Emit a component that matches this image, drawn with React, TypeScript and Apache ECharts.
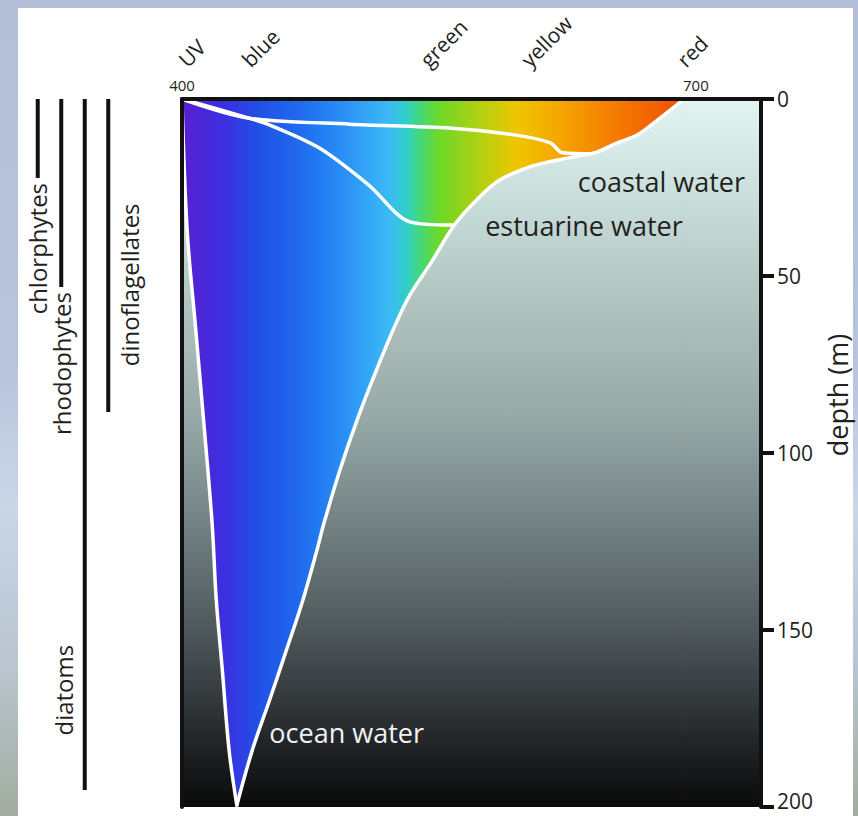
import React, { useEffect, useRef } from "react";
import * as echarts from "echarts";

// ---------------- data ----------------
const wavelengthMin = 400;
const wavelengthMax = 738;
const depthMin = 0;
const depthMax = 200;
const depthInterval = 50;
const wavelengthTickLabels = [400, 700];
const colorBandNames = ["UV", "blue", "green", "yellow", "red"];
const colorBandWavelengths = [400, 437, 541, 600, 691];

// visible spectrum colour by wavelength (nm)
const spectrumWavelengths = [400, 425, 445, 470, 495, 512, 522, 531, 540, 550, 575, 595, 620, 650, 690];
const spectrumColors = [
  "#5a1fd2", "#3a30e0", "#2150e6", "#1f6cee", "#2a90f5", "#36acf7", "#3bbcf2", "#30cfc8",
  "#48d870", "#6cd828", "#b6d010", "#eec600", "#f5a600", "#f47e00", "#f05200",
];

// water colour by depth (m)
const waterDepths = [0, 20, 50, 90, 100, 130, 150, 170, 186, 200];
const waterColors = ["#e2f4f2", "#d0e5e2", "#b6cac6", "#97a9a7", "#8b9c9c", "#677476", "#4e585b", "#33383b", "#1c1e20", "#0a0a0a"];

// ocean water light envelope [wavelength nm, depth m]
const oceanLeftEdge: [number, number][] = [
  [400, 0], [403, 37], [408, 65], [413, 93], [417.6, 120], [420, 141.5], [423.4, 160.5], [427.5, 184], [432, 199.5],
];
const oceanRightEdge: [number, number][] = [
  [432, 199.5], [441, 184], [451, 170], [461, 155.6], [470.6, 141.5], [478.8, 127.4], [482.9, 119.8],
  [492.2, 104.8], [502.2, 90.7], [513.5, 76.6], [525, 63.3], [533, 55.4], [545.7, 46], [559, 35.6],
  [572, 28.5], [585.5, 22.9], [604.8, 18.9], [624.7, 16.7], [642, 15], [654, 12.4], [665.6, 10.2],
  [679, 5.4], [693, 0],
];
const coastalLine: [number, number][] = [
  [400, 0], [439, 5.4], [498, 7.1], [556, 8.2], [595, 10.2], [615, 12.4], [622, 15.2], [640, 15.5],
];
const estuarineLine: [number, number][] = [
  [400, 0], [439, 5.4], [451, 7.3], [480, 13.8], [509, 24.3], [533, 34.7], [558, 35.6],
];

const waterLabels = ["coastal water", "estuarine water", "ocean water"];
const waterLabelAnchors: [number, number][] = [[631, 23.4], [577, 35.6], [451, 179]];

const algaeGroups = ["chlorphytes", "rhodophytes", "diatoms", "dinoflagellates"];
const algaeMaxDepth = [22.3, 53.1, 195.2, 88.4];

// ---------------- presentation ----------------
const FONT = '"Open Sans", "Noto Sans", sans-serif';
const INK = "#231f20";
const GRID_TOP = 99;
const GRID_HEIGHT = 708;
const algaeLabelSide = ["below", "below", "left", "right"];
const algaeLabelCenterDepth = [0, 0, 167, 52.5];

function buildOption() {
  const spectrumStops = spectrumWavelengths.map((w, i) => ({
    offset: (w - wavelengthMin) / (wavelengthMax - wavelengthMin),
    color: spectrumColors[i],
  }));
  const waterStops = waterDepths.map((d, i) => ({
    offset: (d - depthMin) / (depthMax - depthMin),
    color: waterColors[i],
  }));
  const waterFill = () =>
    new echarts.graphic.LinearGradient(0, GRID_TOP, 0, GRID_TOP + GRID_HEIGHT, waterStops, true);

  const SMOOTH = 0.35;

  const whiteLine = (data: [number, number][], smooth: number) => ({
    type: "line",
    xAxisIndex: 0,
    yAxisIndex: 0,
    data,
    symbol: "none",
    silent: true,
    smooth,
    z: 4,
    lineStyle: { color: "#ffffff", width: 3.5, cap: "round", join: "round" },
  });

  // gray water region below a boundary curve (fills down to the deepest depth)
  const waterArea = (data: [number, number][]) => ({
    type: "line",
    xAxisIndex: 0,
    yAxisIndex: 0,
    data,
    symbol: "none",
    silent: true,
    smooth: SMOOTH,
    z: 3,
    lineStyle: { width: 0, opacity: 0 },
    areaStyle: { origin: "end", color: waterFill(), opacity: 1 },
  });

  const envelopeTop = oceanRightEdge[oceanRightEdge.length - 1][0];

  return {
    animation: false,
    backgroundColor: "transparent",
    grid: [
      { left: 182, top: GRID_TOP, width: 579, height: GRID_HEIGHT, containLabel: false, outerBoundsMode: "none" },
      { left: 26, top: GRID_TOP, width: 94, height: GRID_HEIGHT, containLabel: false, outerBoundsMode: "none" },
    ],
    xAxis: [
      {
        type: "value",
        gridIndex: 0,
        position: "top",
        min: wavelengthMin,
        max: wavelengthMax,
        interval: 100,
        z: 10,
        axisLine: { show: true, onZero: false, lineStyle: { color: "#111", width: 4 } },
        axisTick: { show: false },
        splitLine: { show: false },
        axisLabel: {
          margin: 7,
          fontSize: 15,
          fontFamily: FONT,
          color: INK,
          formatter: (v: number) => (wavelengthTickLabels.indexOf(v) >= 0 ? String(v) : ""),
        },
      },
      {
        type: "value",
        gridIndex: 0,
        position: "top",
        min: wavelengthMin,
        max: wavelengthMax,
        z: 10,
        axisLine: { show: false },
        axisTick: { show: false },
        splitLine: { show: false },
        axisLabel: {
          customValues: colorBandWavelengths,
          rotate: 45,
          margin: 36,
          fontSize: 21,
          fontFamily: FONT,
          color: INK,
          formatter: (v: number) => {
            const i = colorBandWavelengths.indexOf(v);
            return i >= 0 ? colorBandNames[i] : "";
          },
        },
      },
      {
        type: "category",
        gridIndex: 1,
        data: algaeGroups,
        show: false,
      },
    ],
    yAxis: [
      {
        type: "value",
        gridIndex: 0,
        position: "right",
        inverse: true,
        min: depthMin,
        max: depthMax,
        interval: depthInterval,
        z: 10,
        axisLine: { show: true, onZero: false, lineStyle: { color: "#111", width: 4 } },
        axisTick: { show: true, inside: false, length: 13, lineStyle: { color: "#111", width: 4 } },
        axisLabel: {
          margin: 16,
          fontSize: 21,
          lineHeight: 16,
          fontFamily: FONT,
          color: INK,
          formatter: (v: number) => (v === depthMax ? `{last|${v}}` : String(v)),
          rich: {
            last: {
              fontSize: 21,
              lineHeight: 16,
              fontFamily: FONT,
              color: INK,
              padding: [0, 0, 12, 0],
            },
          },
        },
        splitLine: { show: false },
      },
      {
        type: "value",
        gridIndex: 0,
        position: "left",
        inverse: true,
        min: depthMin,
        max: depthMax,
        z: 10,
        axisLine: { show: true, onZero: false, lineStyle: { color: "#111", width: 4 } },
        axisTick: { show: false },
        axisLabel: { show: false },
        splitLine: { show: false },
      },
      {
        type: "value",
        gridIndex: 1,
        inverse: true,
        min: depthMin,
        max: depthMax,
        show: false,
      },
    ],
    graphic: {
      elements: [
        {
          type: "rect",
          z: -10,
          silent: true,
          shape: { x: 18, y: 8, width: 835, height: 808 },
          style: { fill: "#ffffff" },
        },
        {
          type: "text",
          z: 10,
          x: 837,
          y: 395,
          rotation: Math.PI / 2,
          style: {
            text: "depth (m)",
            fontSize: 27,
            fontFamily: FONT,
            fill: INK,
            align: "center",
            verticalAlign: "middle",
            textAlign: "center",
            textVerticalAlign: "middle",
          },
        },
      ],
    },
    series: [
      {
        type: "custom",
        name: "spectrum",
        xAxisIndex: 0,
        yAxisIndex: 0,
        silent: true,
        z: 1,
        data: [[wavelengthMin, depthMin, wavelengthMax, depthMax]],
        renderItem: (params: any, api: any) => {
          const p0 = api.coord([api.value(0), api.value(1)]);
          const p1 = api.coord([api.value(2), api.value(3)]);
          return {
            type: "rect",
            shape: { x: p0[0], y: p0[1], width: p1[0] - p0[0], height: p1[1] - p0[1] },
            style: {
              fill: new echarts.graphic.LinearGradient(p0[0], 0, p1[0], 0, spectrumStops, true),
            },
          };
        },
      },
      {
        type: "custom",
        name: "deep red side water",
        xAxisIndex: 0,
        yAxisIndex: 0,
        silent: true,
        z: 2,
        data: [[envelopeTop, depthMin, wavelengthMax, depthMax]],
        renderItem: (params: any, api: any) => {
          const p0 = api.coord([api.value(0), api.value(1)]);
          const p1 = api.coord([api.value(2), api.value(3)]);
          return {
            type: "rect",
            shape: { x: p0[0] - 0.5, y: p0[1], width: p1[0] - p0[0] + 0.5, height: p1[1] - p0[1] },
            style: { fill: waterFill() },
          };
        },
      },
      waterArea(oceanLeftEdge),
      waterArea(oceanRightEdge),
      whiteLine(oceanLeftEdge, SMOOTH),
      whiteLine(oceanRightEdge, SMOOTH),
      whiteLine(coastalLine, 0.3),
      whiteLine(estuarineLine, 0.3),
      {
        type: "custom",
        name: "water labels",
        xAxisIndex: 0,
        yAxisIndex: 0,
        silent: true,
        z: 5,
        data: waterLabelAnchors.map((a) => [a[0], a[1]]),
        renderItem: (params: any, api: any) => {
          const i = params.dataIndex;
          const p = api.coord([api.value(0), api.value(1)]);
          return {
            type: "text",
            x: p[0],
            y: p[1],
            style: {
              text: waterLabels[i],
              fontSize: 27,
              fontFamily: FONT,
              fill: i === 2 ? "#f2f2f2" : INK,
              align: "left",
              verticalAlign: "middle",
              textAlign: "left",
              textVerticalAlign: "middle",
            },
          };
        },
      },
      {
        type: "custom",
        name: "algae",
        xAxisIndex: 2,
        yAxisIndex: 2,
        silent: true,
        z: 5,
        data: algaeGroups.map((g, i) => [i, algaeMaxDepth[i]]),
        renderItem: (params: any, api: any) => {
          const i = params.dataIndex;
          const top = api.coord([api.value(0), 0]);
          const end = api.coord([api.value(0), api.value(1)]);
          const side = algaeLabelSide[i];
          let tx = top[0];
          let ty = end[1] + 5;
          let align = "right";
          let valign = "middle";
          if (side === "left" || side === "right") {
            ty = api.coord([api.value(0), algaeLabelCenterDepth[i]])[1];
            align = "center";
            tx = side === "left" ? top[0] - 9 : top[0] + 9;
            valign = side === "left" ? "bottom" : "top";
          }
          return {
            type: "group",
            children: [
              {
                type: "line",
                shape: { x1: top[0], y1: top[1], x2: end[0], y2: end[1] },
                style: { stroke: "#111", lineWidth: 4 },
              },
              {
                type: "text",
                x: tx,
                y: ty,
                rotation: Math.PI / 2,
                style: {
                  text: algaeGroups[i],
                  fontSize: 24,
                  fontFamily: FONT,
                  fill: INK,
                  align,
                  verticalAlign: valign,
                  textAlign: align,
                  textVerticalAlign: valign,
                },
              },
            ],
          };
        },
      },
    ],
  };
}

export default function App() {
  const ref = useRef<HTMLDivElement>(null);
  useEffect(() => {
    if (!ref.current) return;
    const chart = echarts.init(ref.current, null, { renderer: "svg" });
    chart.setOption(buildOption() as any);
    return () => chart.dispose();
  }, []);
  return (
    <div
      style={{
        position: "fixed",
        left: 0,
        top: 0,
        width: 858,
        height: 816,
        background:
          "linear-gradient(180deg, #b3bfd7 0%, #b8c4dc 45%, #cad6e6 62%, #b9c4cf 82%, #a2ad9f 100%)",
      }}
    >
      <div ref={ref} style={{ width: 858, height: 816 }} />
    </div>
  );
}
